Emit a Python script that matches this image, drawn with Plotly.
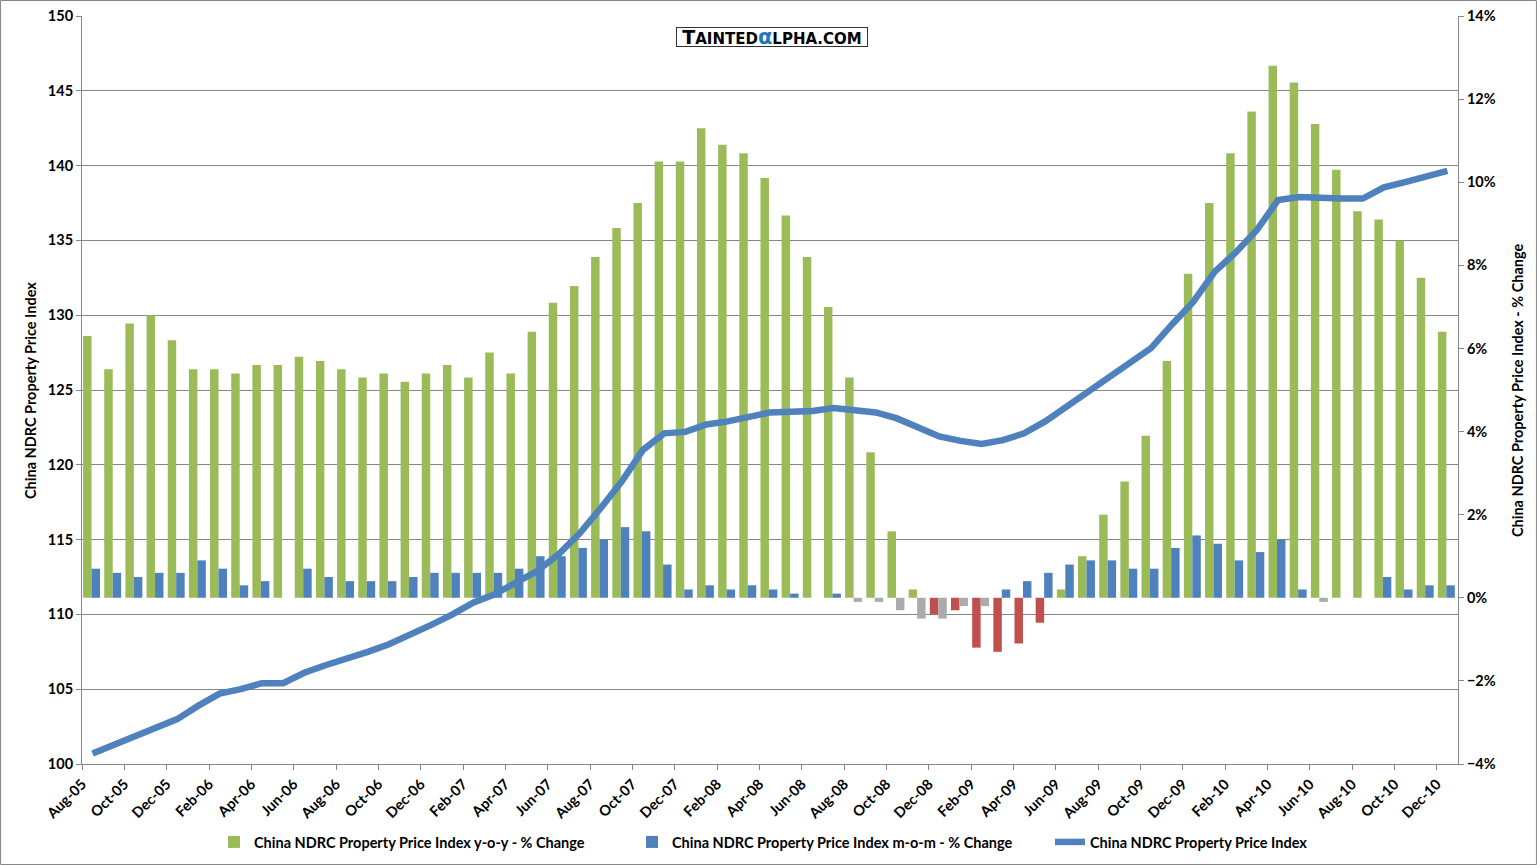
import plotly.graph_objects as go

months = ["Aug-05","Sep-05","Oct-05","Nov-05","Dec-05","Jan-06","Feb-06","Mar-06","Apr-06","May-06",
          "Jun-06","Jul-06","Aug-06","Sep-06","Oct-06","Nov-06","Dec-06","Jan-07","Feb-07","Mar-07",
          "Apr-07","May-07","Jun-07","Jul-07","Aug-07","Sep-07","Oct-07","Nov-07","Dec-07","Jan-08",
          "Feb-08","Mar-08","Apr-08","May-08","Jun-08","Jul-08","Aug-08","Sep-08","Oct-08","Nov-08",
          "Dec-08","Jan-09","Feb-09","Mar-09","Apr-09","May-09","Jun-09","Jul-09","Aug-09","Sep-09",
          "Oct-09","Nov-09","Dec-09","Jan-10","Feb-10","Mar-10","Apr-10","May-10","Jun-10","Jul-10",
          "Aug-10","Sep-10","Oct-10","Nov-10","Dec-10"]

yoy_pct = [6.3, 5.5, 6.6, 6.8, 6.2, 5.5, 5.5, 5.4, 5.6, 5.6,
           5.8, 5.7, 5.5, 5.3, 5.4, 5.2, 5.4, 5.6, 5.3, 5.9,
           5.4, 6.4, 7.1, 7.5, 8.2, 8.9, 9.5, 10.5, 10.5, 11.3,
           10.9, 10.7, 10.1, 9.2, 8.2, 7.0, 5.3, 3.5, 1.6, 0.2,
           -0.4, -0.3, -1.2, -1.3, -1.1, -0.6, 0.2, 1.0, 2.0, 2.8,
           3.9, 5.7, 7.8, 9.5, 10.7, 11.7, 12.8, 12.4, 11.4, 10.3,
           9.3, 9.1, 8.6, 7.7, 6.4]

mom_pct = [0.7, 0.6, 0.5, 0.6, 0.6, 0.9, 0.7, 0.3, 0.4, 0.0,
           0.7, 0.5, 0.4, 0.4, 0.4, 0.5, 0.6, 0.6, 0.6, 0.6,
           0.7, 1.0, 1.0, 1.2, 1.4, 1.7, 1.6, 0.8, 0.2, 0.3,
           0.2, 0.3, 0.2, 0.1, 0.0, 0.1, -0.1, -0.1, -0.3, -0.5,
           -0.5, -0.2, -0.2, 0.2, 0.4, 0.6, 0.8, 0.9, 0.9, 0.7,
           0.7, 1.2, 1.5, 1.3, 0.9, 1.1, 1.4, 0.2, -0.1, 0.0,
           0.0, 0.5, 0.2, 0.3, 0.3]

price_index = [100.7, 101.3, 101.9, 102.5, 103.0, 103.9, 104.7, 105.0, 105.4, 105.4,
               106.1, 106.6, 107.0, 107.5, 108.0, 108.6, 109.3, 110.0, 110.8, 111.35,
               112.1, 112.9, 114.0, 115.4, 117.1, 118.9, 121.0, 122.1, 122.2, 122.7,
               122.9, 123.2, 123.5, 123.55, 123.6, 123.8, 123.6, 123.5, 123.1, 122.5,
               121.9, 121.6, 121.4, 121.65, 122.1, 122.9, 123.9, 124.9, 125.9, 126.8,
               127.8, 129.4, 130.9, 132.9, 134.2, 135.7, 137.7, 137.9, 137.8, 137.8,
               137.8, 138.55, 138.9, 139.3, 139.65]

GREEN = "#9BBB59"
RED = "#C0504D"
BLUE = "#4F81BD"
GREY = "#ABABAB"
AXIS = "#868686"
FONT = "Lato"
FS = 14.5

x = list(range(len(months)))
yoy_colors = [GREEN if v >= 0 else RED for v in yoy_pct]
mom_colors = [BLUE if v >= 0 else GREY for v in mom_pct]

fig = go.Figure()
fig.add_trace(go.Bar(
    x=x, y=yoy_pct, name="China NDRC Property Price Index y-o-y - % Change",
    marker=dict(color=yoy_colors, line=dict(width=0)),
    width=0.4, offset=-0.45, yaxis="y",
))
fig.add_trace(go.Bar(
    x=x, y=mom_pct, name="China NDRC Property Price Index m-o-m - % Change",
    marker=dict(color=mom_colors, line=dict(width=0)),
    width=0.4, offset=-0.05, yaxis="y",
))
fig.add_trace(go.Scatter(
    x=x, y=price_index, name="China NDRC Property Price Index",
    mode="lines", line=dict(color=BLUE, width=6.5), yaxis="y2",
))

tick_font = dict(family=FONT, size=FS, color="black", weight="bold")
title_font = dict(family=FONT, size=FS, color="black", weight="bold")

fig.update_layout(
    width=1537, height=865,
    margin=dict(l=82, r=79, t=16, b=101, pad=0),
    paper_bgcolor="white", plot_bgcolor="white",
    barmode="overlay",
    showlegend=True,
    legend=dict(orientation="h", xref="paper", x=(214 - 82) / 1376, xanchor="left",
                yref="container", y=1 - 842 / 865, yanchor="middle",
                font=title_font, bgcolor="rgba(0,0,0,0)", traceorder="normal",
                itemwidth=30, entrywidth=373, entrywidthmode="pixels"),
    xaxis=dict(range=[-0.5, len(months) - 0.5],
               tickvals=[i - 0.5 for i in range(0, len(months), 2)],
               ticktext=[months[i] for i in range(0, len(months), 2)],
               tickangle=-45, ticks="outside", ticklen=5, tickcolor=AXIS,
               showline=True, linecolor=AXIS, linewidth=1,
               showgrid=False, zeroline=False, tickfont=tick_font, automargin=False),
    yaxis=dict(side="right", range=[-4, 14], dtick=2, ticksuffix="%",
               showgrid=False, zeroline=False, showline=True, linecolor=AXIS,
               ticks="outside", ticklen=5, tickcolor=AXIS, tickfont=tick_font,
               automargin=False),
    yaxis2=dict(side="left", overlaying="y", range=[100, 150], dtick=5,
                showgrid=True, gridcolor=AXIS, gridwidth=1, zeroline=False,
                showline=True, linecolor=AXIS, ticks="outside", ticklen=5,
                tickcolor=AXIS, tickfont=tick_font, automargin=False),
    annotations=[
        dict(text="China NDRC Property Price Index", xref="paper", yref="paper",
             x=-0.0378, y=0.5, xanchor="center", yanchor="middle",
             textangle=-90, showarrow=False, font=title_font),
        dict(text="China NDRC Property Price Index - % Change", xref="paper", yref="paper",
             x=1.0429, y=0.5, xanchor="center", yanchor="middle",
             textangle=-90, showarrow=False, font=title_font),
        dict(text='<span style="font-size:19px">T</span>AINTED'
                  '<span style="color:#1F78C1;font-size:21px">α</span>LPHA.COM',
             xref="paper", yref="paper", x=(772 - 82) / 1376, y=(764 - 37.5) / 748,
             xanchor="center", yanchor="middle", showarrow=False,
             width=190, height=18, valign="middle",
             font=dict(family="DejaVu Sans", size=15, color="black", weight="bold"),
             bordercolor="#333333", borderwidth=1, borderpad=0, bgcolor="white"),
    ],
    shapes=[dict(type="rect", xref="paper", yref="paper",
                 x0=-0.0592, x1=1.0570, y0=-0.1344, y1=1.0207,
                 line=dict(color=AXIS, width=1), layer="below")],
)

fig.write_html("out.html", config={"displayModeBar": False},
               post_script="document.body.style.margin='0';")
